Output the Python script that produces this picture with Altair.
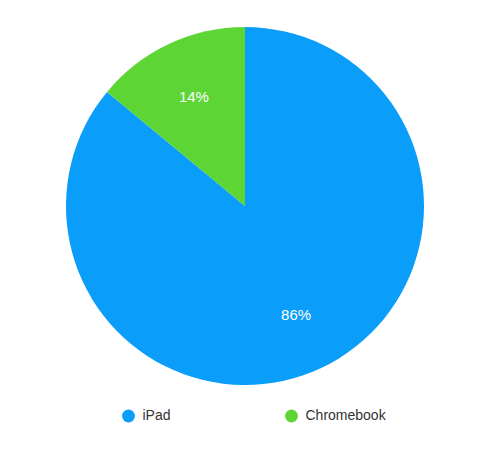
import altair as alt
import pandas as pd

categories = ["iPad", "Chromebook"]
shares = [86, 14]
colors = ["#0a9efa", "#5dd535"]

df = pd.DataFrame({
    "device": categories,
    "share": shares,
    "rank": list(range(len(categories))),
    "label": [f"{v}%" for v in shares],
})

base = alt.Chart(df).encode(
    theta=alt.Theta("share:Q", stack=True),
    order=alt.Order("rank:O"),
)

pie = base.mark_arc(outerRadius=179).encode(
    color=alt.Color(
        "device:N",
        scale=alt.Scale(domain=categories, range=colors),
        sort=categories,
        legend=alt.Legend(
            orient="none", legendX=103.5, legendY=401, direction="horizontal",
            title=None, symbolType="circle", symbolSize=165,
            labelFontSize=14, labelFont="Liberation Sans", labelColor="#333333",
            labelOffset=7, columnPadding=113, padding=0, symbolStrokeWidth=0,
        ),
    )
)

text = base.mark_text(radius=120, fontSize=15, font="Liberation Sans", color="white").encode(
    text="label:N"
)

chart = (pie + text).properties(
    width=454,
    height=396,
    padding={"left": 10, "top": 0, "right": 0, "bottom": 44},
    autosize=alt.AutoSizeParams(type="none"),
    background="white",
).configure_view(stroke=None)

chart.save("out.html", embed_options={"renderer": "svg", "actions": False})
